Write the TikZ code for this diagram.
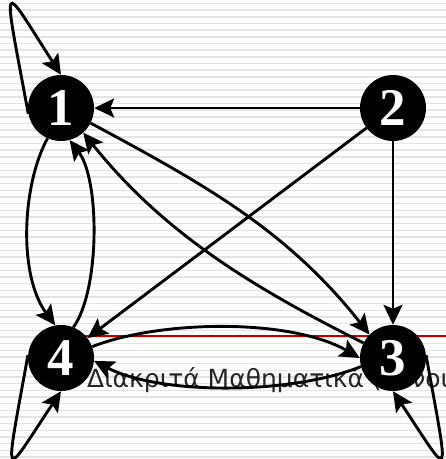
\documentclass[tikz,border=0pt]{standalone}
\usepackage{fontspec}
\setmainfont{Liberation Serif}
\newfontfamily\footfont{DejaVu Sans}
\usetikzlibrary{arrows.meta}
\definecolor{footred}{HTML}{C00000}
\definecolor{stripegray}{HTML}{E3E3E3}

\begin{document}
\begin{tikzpicture}[x=1pt,y=-1pt,
  vertex/.style={circle, fill=black, text=white, minimum size=66pt, inner sep=0pt,
    font=\fontsize{53}{53}\selectfont\bfseries},
  edge/.style={line width=2.9pt, -{Stealth[length=20pt,width=19pt,inset=4pt]}}]
  \useasboundingbox (0,0) rectangle (446,459);
  \fill[white] (0,0) rectangle (446,459);
  % lined slide background
  \foreach \k in {0,...,68}
    \draw[stripegray, line width=1.5pt] (0,{3.5+6.67*\k}) -- (446,{3.5+6.67*\k});
  \draw[footred, line width=2.6pt] (60,336) -- (446,336);
  \node[anchor=base west, inner sep=0pt, text=black!85,
    font=\footfont\fontsize{25}{30}\selectfont] (foot) at (87,387) {Διακριτά Μαθηματικά (Εννοι};

  \node[vertex] (n1) at (61,108) {1};
  \node[vertex] (n2) at (393,108) {2};
  \node[vertex] (n3) at (393,358) {3};
  \node[vertex] (n4) at (61,358) {4};

  \draw[edge] (n2) -- (n1);
  \draw[edge] (n2) -- (n3);
  \draw[edge] (n2) -- (n4);
  \draw[edge] (n1.333) .. controls (204,184) and (287,230) .. (n3.135);
  \draw[edge] (n3.153) .. controls (256,289) and (165,235) .. (n1.312);
  \draw[edge] (n1.246) .. controls (22,185) and (18,275) .. (n4.100);
  \draw[edge] (n4.68) .. controls (100,290) and (100,180) .. (n1.285);
  \draw[edge] (n4.20) .. controls (160,320) and (290,318) .. (n3.180);
  \draw[edge] (n3.195) .. controls (290,395) and (160,395) .. (n4.355);
  % loops
  \draw[edge] (n1.190) .. controls (2,-28) and (0,-20) .. (n1.90);
  \draw[edge] (n4.175) .. controls (4,488) and (2,480) .. (n4.270);
  \draw[edge] (n3.5) .. controls (450,488) and (452,480) .. (n3.270);
\end{tikzpicture}
\end{document}
